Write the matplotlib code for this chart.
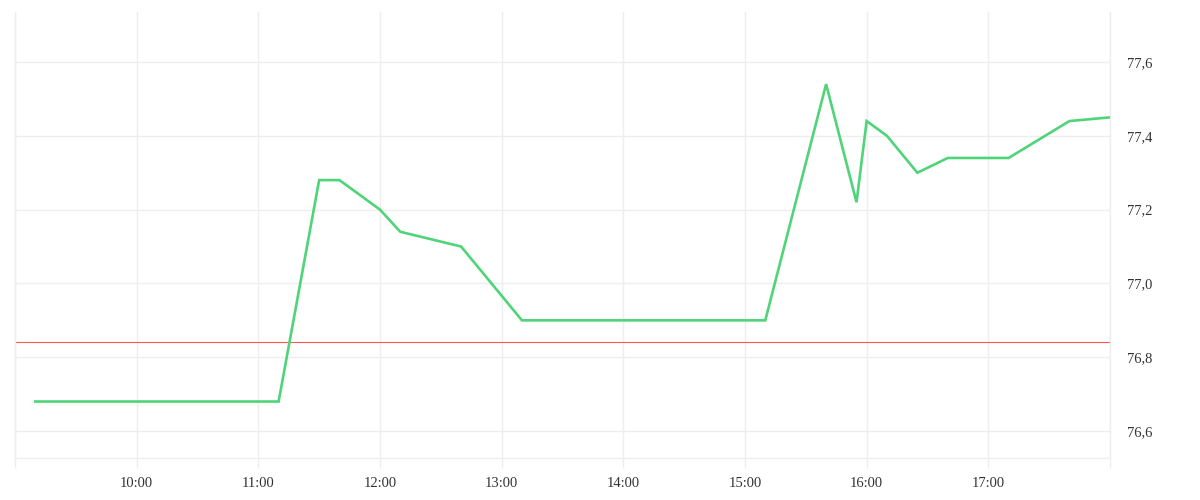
import datetime as dt
import matplotlib
matplotlib.use("Agg")
import matplotlib.pyplot as plt
from matplotlib.ticker import FuncFormatter

times = ["09:10", "11:10", "11:30", "11:40", "12:00", "12:10", "12:40", "13:10",
         "15:10", "15:40", "15:55", "16:00", "16:10", "16:25", "16:40", "17:10",
         "17:40", "18:00"]
prices = [76.68, 76.68, 77.28, 77.28, 77.20, 77.14, 77.10, 76.90,
          76.90, 77.54, 77.22, 77.44, 77.40, 77.30, 77.34, 77.34,
          77.44, 77.45]
ref_level = 76.84
y_ticks = [76.6, 76.8, 77.0, 77.2, 77.4, 77.6]

day = dt.date(2024, 1, 1)
def t(s):
    h, m = s.split(":")
    return dt.datetime.combine(day, dt.time(int(h), int(m)))

x = [t(s) for s in times]
grid_col = "#eeeeee"

fig = plt.figure(figsize=(12, 5), dpi=100)
ax = fig.add_axes([15/1200, 42/500, 1095/1200, 446/500])

ax.plot(x, prices, color="#4fd479", lw=1.9, zorder=3, solid_joinstyle="miter")
ax.axhline(ref_level, color="#ff5555", lw=0.8, zorder=2)

ax.set_xlim(t("09:00"), t("18:00"))
ax.set_ylim(76.527, 77.7355)

hours = [t("%02d:00" % h) for h in range(9, 19)]
ax.set_xticks(hours)
ax.set_xticklabels([""] + [h.strftime("%H:%M") for h in hours[1:-1]] + [""])
ax.set_yticks(y_ticks)
ax.yaxis.set_major_formatter(FuncFormatter(lambda v, p: ("%.1f" % v).replace(".", ",")))
ax.yaxis.tick_right()

ax.grid(True, color=grid_col, lw=1)
ax.spines["top"].set_visible(False)
for side in ["left", "right", "bottom"]:
    ax.spines[side].set_color(grid_col)
    ax.spines[side].set_linewidth(1)

ax.tick_params(axis="x", length=7, color=grid_col, width=1, pad=7,
               labelsize=10.5, labelcolor="#333333")
ax.tick_params(axis="y", length=0, pad=12, labelsize=10.5, labelcolor="#333333")
for lab in ax.get_xticklabels() + ax.get_yticklabels():
    lab.set_family(["Liberation Serif", "DejaVu Serif"])

fig.savefig("out.png", dpi=100)
